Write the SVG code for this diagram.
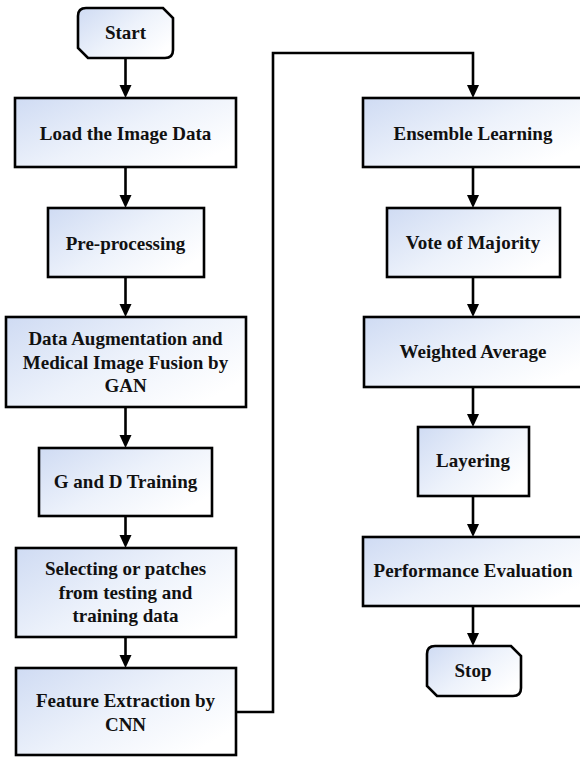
<svg xmlns="http://www.w3.org/2000/svg" width="580" height="758" viewBox="0 0 580 758" font-family="'Liberation Serif', 'Times New Roman', 'DejaVu Serif', serif">
<style>
.box{stroke:#000;stroke-width:2.6;fill:url(#g)}
.t{font-family:'Liberation Serif','Times New Roman','DejaVu Serif',serif;font-weight:bold;font-size:19px;fill:#111;text-anchor:middle}
.c{fill:none;stroke:#000;stroke-width:2.6}
</style>
<defs>
<linearGradient id="g" x1="0" y1="0" x2="1" y2="0.7">
<stop offset="0" stop-color="#cfdbf3"/>
<stop offset="0.55" stop-color="#edf2fb"/>
<stop offset="1" stop-color="#ffffff"/>
</linearGradient>
</defs>
<rect width="580" height="758" fill="#fff"/>
<g id="connectors">
<line class="c" x1="125.5" y1="58" x2="125.5" y2="85"/><path d="M119.5,85 h12 l-6,13 z"/>
<line class="c" x1="125.5" y1="167" x2="125.5" y2="195"/><path d="M119.5,195 h12 l-6,13 z"/>
<line class="c" x1="125.5" y1="277" x2="125.5" y2="304"/><path d="M119.5,304 h12 l-6,13 z"/>
<line class="c" x1="125.5" y1="407" x2="125.5" y2="435"/><path d="M119.5,435 h12 l-6,13 z"/>
<line class="c" x1="125.5" y1="516" x2="125.5" y2="535"/><path d="M119.5,535 h12 l-6,13 z"/>
<line class="c" x1="125.5" y1="637" x2="125.5" y2="655"/><path d="M119.5,655 h12 l-6,13 z"/>
<path class="c" d="M236,712 H273 V53 H473 V85"/><path d="M467,85 h12 l-6,13 z"/>
<line class="c" x1="473" y1="167" x2="473" y2="195"/><path d="M467,195 h12 l-6,13 z"/>
<line class="c" x1="473" y1="277" x2="473" y2="304"/><path d="M467,304 h12 l-6,13 z"/>
<line class="c" x1="473" y1="387" x2="473" y2="414"/><path d="M467,414 h12 l-6,13 z"/>
<line class="c" x1="473" y1="496" x2="473" y2="524"/><path d="M467,524 h12 l-6,13 z"/>
<line class="c" x1="473" y1="606" x2="473" y2="633"/><path d="M467,633 h12 l-6,13 z"/>
</g>
<g id="start">
<path class="box" d="M86,8 H163 L173,18 V50 Q173,58 165,58 H88 L78,48 V16 Q78,8 86,8 Z"/>
<text class="t" x="125.5" y="39">Start</text>
</g>
<g id="load">
<rect class="box" x="15" y="98" width="221" height="69"/>
<text class="t" x="125.5" y="140">Load the Image Data</text>
</g>
<g id="preprocessing">
<rect class="box" x="48" y="208" width="156" height="69"/>
<text class="t" x="125.5" y="250">Pre-processing</text>
</g>
<g id="augmentation">
<rect class="box" x="6" y="317" width="240" height="90"/>
<text class="t" x="125.5" y="345">Data Augmentation and</text>
<text class="t" x="125.5" y="368.5">Medical Image Fusion by</text>
<text class="t" x="125.5" y="392">GAN</text>
</g>
<g id="gd-training">
<rect class="box" x="39" y="448" width="173" height="68"/>
<text class="t" x="125.5" y="488">G and D Training</text>
</g>
<g id="selecting">
<rect class="box" x="16" y="548" width="220" height="89"/>
<text class="t" x="125.5" y="575">Selecting or patches</text>
<text class="t" x="125.5" y="598.5">from testing and</text>
<text class="t" x="125.5" y="622">training data</text>
</g>
<g id="feature">
<rect class="box" x="16" y="668" width="220" height="87"/>
<text class="t" x="125.5" y="707">Feature Extraction by</text>
<text class="t" x="125.5" y="730.5">CNN</text>
</g>
<g id="ensemble">
<rect class="box" x="363" y="98" width="222" height="69"/>
<text class="t" x="473" y="140">Ensemble Learning</text>
</g>
<g id="vote">
<rect class="box" x="387" y="208" width="173" height="69"/>
<text class="t" x="473" y="249">Vote of Majority</text>
</g>
<g id="weighted">
<rect class="box" x="364" y="317" width="221" height="70"/>
<text class="t" x="473" y="358">Weighted Average</text>
</g>
<g id="layering">
<rect class="box" x="418" y="427" width="111" height="69"/>
<text class="t" x="473" y="467">Layering</text>
</g>
<g id="performance">
<rect class="box" x="363" y="537" width="222" height="69"/>
<text class="t" x="473" y="577">Performance Evaluation</text>
</g>
<g id="stop">
<path class="box" d="M435,646 H511 L521,656 V688 Q521,696 513,696 H437 L427,686 V654 Q427,646 435,646 Z"/>
<text class="t" x="473" y="677">Stop</text>
</g>
</svg>
